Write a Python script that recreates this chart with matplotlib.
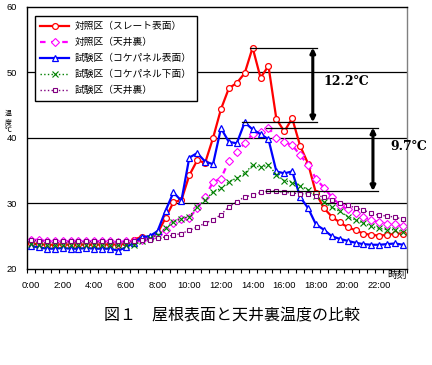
import matplotlib
matplotlib.use("Agg")
import matplotlib.pyplot as plt
import numpy as np
from matplotlib.ticker import FixedLocator

# ---------------- data ----------------
times = [f"{h}:{m:02d}" for h in range(24) for m in (0, 30)]
tick_labels = ["0:00", "2:00", "4:00", "6:00", "8:00", "10:00", "12:00",
               "14:00", "16:00", "18:00", "20:00", "22:00"]

series_names = ["対照区（スレート表面）", "対照区（天井裏）", "試験区（コケパネル表面）",
                "試験区（コケパネル下面）", "試験区（天井裏）"]

ctrl_surface = [23.9, 23.8, 23.7, 23.7, 23.8, 23.7, 23.8, 23.7, 23.8, 23.7, 23.8, 23.7, 23.9,
                24.5, 24.9, 24.8, 25.5, 27.8, 30.2, 30.5, 34.3, 36.6, 36.2, 40.0, 44.4,
                47.6, 48.4, 49.9, 53.8, 49.2, 51.0, 42.9, 41.0, 43.0, 38.8, 36.1, 31.6,
                29.3, 28.0, 27.1, 26.4, 25.9, 25.4, 25.2, 25.1, 25.2, 25.4, 25.4]
ctrl_attic = [24.4, 24.5, 24.2, 24.2, 24.2, 24.2, 24.2, 24.2, 24.2, 24.2, 24.2, 24.1, 24.2,
              24.3, 24.5, 24.8, 25.3, 25.9, 27.0, 27.7, 27.8, 29.3, 31.0, 33.3, 33.8,
              36.5, 37.8, 39.2, 40.6, 40.9, 41.6, 40.0, 39.4, 38.9, 37.4, 35.9, 33.8,
              32.4, 31.0, 29.8, 29.1, 28.6, 27.9, 27.5, 27.1, 26.9, 26.8, 26.5]
test_surface = [23.5, 23.3, 23.1, 23.1, 23.2, 23.1, 23.1, 23.2, 23.1, 23.1, 23.1, 22.8, 23.3,
                24.0, 24.9, 25.0, 25.8, 28.9, 31.7, 30.4, 37.0, 37.7, 36.4, 36.0, 41.5,
                39.4, 39.2, 42.4, 41.3, 40.6, 39.8, 34.9, 34.6, 34.9, 31.0, 29.3, 26.8,
                26.0, 25.0, 24.6, 24.3, 24.0, 23.8, 23.7, 23.7, 23.8, 23.9, 23.7]
test_under = [23.8, 23.7, 23.7, 23.6, 23.7, 23.6, 23.7, 23.6, 23.7, 23.6, 23.7, 23.6, 23.7,
              23.7, 24.2, 24.7, 25.2, 26.2, 27.2, 27.7, 28.0, 29.5, 30.5, 31.8, 32.3,
              33.3, 33.9, 34.6, 35.9, 35.5, 35.9, 34.4, 33.5, 33.2, 32.7, 32.1, 31.1,
              30.3, 29.4, 28.8, 28.0, 27.5, 27.0, 26.5, 26.2, 26.0, 26.0, 25.7]
test_attic = [24.4, 24.3, 24.3, 24.2, 24.2, 24.2, 24.2, 24.2, 24.2, 24.2, 24.2, 24.2, 24.2,
              24.2, 24.4, 24.4, 24.7, 24.9, 25.2, 25.4, 25.9, 26.4, 27.0, 27.5, 28.3,
              29.5, 30.3, 31.0, 31.3, 31.7, 31.9, 31.9, 31.7, 31.6, 31.5, 31.4, 31.2,
              31.0, 30.5, 30.1, 29.8, 29.3, 29.0, 28.5, 28.2, 28.1, 27.9, 27.6]

diff_labels = ["12.2℃", "9.7℃"]

# ---------------- figure ----------------
plt.rcParams['font.family'] = ['Liberation Sans', 'DejaVu Sans']
CJK = ['Noto Sans CJK JP', 'DejaVu Sans']

fig = plt.figure(figsize=(4.32, 3.65), dpi=100)
ax = fig.add_axes([27/432, 1-269/365, 380/432, 262/365])

x = np.arange(len(times))

styles = [
    dict(color='#FF0000', lw=1.6, ls='-', marker='o', ms=4.2, mfc='white', mew=0.9),
    dict(color='#FF00FF', lw=1.6, ls=(0, (2.5, 2.5)), marker='D', ms=3.8, mfc='white', mew=0.8),
    dict(color='#0000FF', lw=1.6, ls='-', marker='^', ms=5.0, mfc='white', mew=0.9),
    dict(color='#008000', lw=1.0, ls=':', marker='x', ms=3.8, mew=0.8),
    dict(color='#800080', lw=1.0, ls=':', marker='s', ms=3.0, mfc='white', mew=0.8),
]
all_series = [ctrl_surface, ctrl_attic, test_surface, test_under, test_attic]
for vals, name, st in zip(all_series, series_names, styles):
    ax.plot(x, vals, label=name, **st)

ax.set_xlim(-0.5, len(times) - 0.5)
ax.set_ylim(20, 60)
ax.set_yticks([20, 30, 40, 50, 60])
ax.set_xticks([times.index(t) for t in tick_labels])
ax.set_xticklabels(tick_labels)
ax.xaxis.set_minor_locator(FixedLocator(np.arange(-0.5, len(times), 1.0)))
ax.tick_params(axis='x', which='major', length=0, pad=8.3, labelsize=6.7)
ax.tick_params(axis='x', which='minor', length=3, width=0.8, direction='out')
ax.tick_params(axis='y', which='major', length=0, pad=7, labelsize=6.7)

for yv in [30, 40, 50]:
    ax.axhline(yv, color='black', lw=0.9, zorder=0.5)
for s in ['left', 'bottom', 'top']:
    ax.spines[s].set_color('black')
    ax.spines[s].set_linewidth(1.0)
ax.spines['right'].set_color('#808080')
ax.spines['right'].set_linewidth(1.0)

# difference annotations
def diff_marker(upper, lower, x_end, x_arrow, x_text, y_text, label):
    iu = int(np.argmax(upper)); il = int(np.argmax(lower))
    yu = max(upper); yl = max(lower)
    ax.plot([iu - 0.3, x_end], [yu, yu], color='black', lw=0.9)
    ax.plot([il - 0.3, x_end], [yl, yl], color='black', lw=0.9)
    ax.annotate('', xy=(x_arrow, yu), xytext=(x_arrow, yl),
                arrowprops=dict(arrowstyle='<|-|>', color='black', lw=2.2,
                                mutation_scale=7, shrinkA=0, shrinkB=0))
    ax.text(x_text, y_text, label, ha='left', va='center', fontsize=9,
            family=['DejaVu Serif', 'DejaVu Sans'], fontweight='bold', clip_on=False)

diff_marker(ctrl_surface, test_surface, 36.1, 35.6, 37.0, 48.6, diff_labels[0])
diff_marker(ctrl_attic, test_attic, 43.8, 43.2, 45.4, 38.7, diff_labels[1])

leg = ax.legend(loc='upper left', bbox_to_anchor=(0.021, 0.966), borderaxespad=0,
                prop={'family': CJK, 'size': 7}, frameon=True, fancybox=False,
                edgecolor='black', handlelength=3.0, handletextpad=0.5,
                labelspacing=0.62, borderpad=0.55, numpoints=1)
leg.get_frame().set_linewidth(1.0)
leg.get_frame().set_alpha(1)

ax.text(1.0, -0.004, "時刻", transform=ax.transAxes, ha='right', va='top',
        fontsize=7, family=CJK)
fig.text(8/432, 1-122/365, "温\n度\n℃", ha='center', va='center', fontsize=5,
         family=CJK, linespacing=1.0)

fig.text(231.5/432, 1-316/365, "図１　屋根表面と天井裏温度の比較", ha='center', va='center',
         fontsize=11.5, family=CJK)

fig.savefig("out.png", dpi=100)
